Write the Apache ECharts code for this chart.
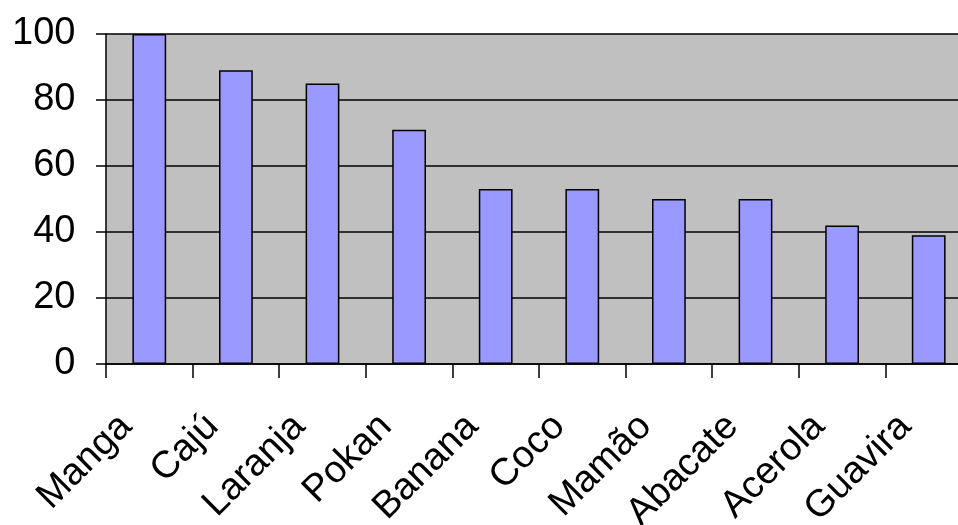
<!DOCTYPE html>
<html>
<head>
<meta charset="utf-8">
<script src="https://cdn.jsdelivr.net/npm/echarts@6/dist/echarts.min.js"></script>
<style>
  html, body { margin: 0; padding: 0; background: #fff; }
  body { width: 958px; height: 525px; overflow: hidden; }
  /* plot runs past the right edge of the page, as in the original sheet */
  #chart { width: 972px; height: 525px; }
</style>
</head>
<body>
<div id="chart"></div>
<script>
// Fruit names along the category axis
const frutas = ['Manga', 'Cajú', 'Laranja', 'Pokan', 'Banana', 'Coco', 'Mamão', 'Abacate', 'Acerola', 'Guavira'];
// Bar heights
const valores = [100, 89, 85, 71, 53, 53, 50, 50, 42, 39];
// Value axis ticks
const yTicks = [0, 20, 40, 60, 80, 100];

const chart = echarts.init(document.getElementById('chart'), null, { renderer: 'canvas' });

const fonte = 'Liberation Sans, Arial, sans-serif';

chart.setOption({
  animation: false,
  backgroundColor: '#ffffff',
  grid: {
    left: 106,
    top: 34,
    bottom: 161,
    right: 0,
    containLabel: false,
    outerBoundsMode: 'none',
    show: true,
    backgroundColor: '#C0C0C0',
    borderWidth: 0
  },
  xAxis: {
    type: 'category',
    data: frutas,
    boundaryGap: true,
    axisLine: { show: true, lineStyle: { color: '#000', width: 1.5 } },
    axisTick: { show: true, alignWithLabel: false, length: 14, lineStyle: { color: '#000', width: 1.5 } },
    axisLabel: {
      interval: 0,
      rotate: 45,
      margin: 6.5,
      verticalAlign: 'top',
      padding: [0, 52, 0, 0],
      color: '#000',
      fontFamily: fonte,
      fontSize: 38
    },
    splitLine: { show: false }
  },
  yAxis: {
    type: 'value',
    min: yTicks[0],
    max: yTicks[yTicks.length - 1],
    interval: yTicks[1] - yTicks[0],
    axisLine: { show: true, lineStyle: { color: '#000', width: 1.5 } },
    axisTick: { show: true, length: 10, lineStyle: { color: '#000', width: 1.5 } },
    axisLabel: {
      margin: 30.5,
      color: '#000',
      fontFamily: fonte,
      fontSize: 38,
      padding: [0, 0, 8, 0]
    },
    splitLine: { show: true, lineStyle: { color: '#000', width: 1.5 } }
  },
  series: [{
    type: 'bar',
    data: valores,
    barWidth: '39%',
    itemStyle: {
      color: '#9999FF',
      borderColor: '#000',
      borderWidth: 1.5
    }
  }]
});
</script>
</body>
</html>
